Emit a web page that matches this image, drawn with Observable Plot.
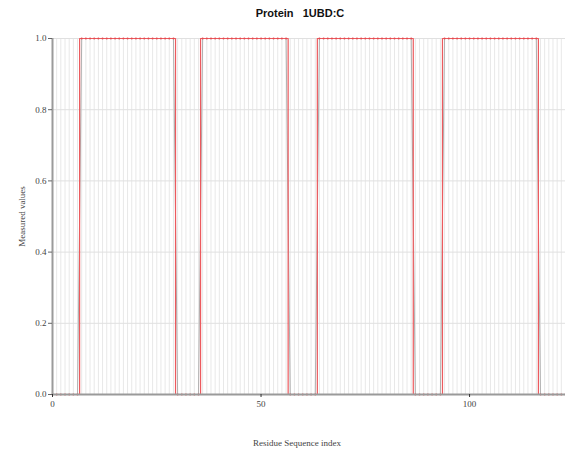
<!DOCTYPE html>
<html>
<head>
<meta charset="utf-8">
<script src="https://cdn.jsdelivr.net/npm/d3@7"></script>
<script src="https://cdn.jsdelivr.net/npm/@observablehq/plot@0.6"></script>
<style>
  body { margin: 0; background: #fff; }
  #wrap { position: relative; width: 565px; height: 452px; }
  #title { position: absolute; top: 7px; left: 0; width: 600px; text-align: center;
           font: bold 11px "Liberation Sans", Arial, sans-serif; color: #111; white-space: pre; }
</style>
</head>
<body>
<div id="wrap"><div id="title">Protein   1UBD:C</div></div>
<script>
// Residue indices and measured values (1 = in segment, 0 = out)
const residues = d3.range(0, 124);
const segments = [[7, 29], [36, 56], [64, 86], [94, 116]];
const values = residues.map(r => segments.some(([a, b]) => r >= a && r <= b) ? 1 : 0);
const xTicks = [0, 50, 100];
const yTicks = [0, 0.2, 0.4, 0.6, 0.8, 1.0];

const data = residues.map((r, i) => ({residue: r, value: values[i]}));

const chart = Plot.plot({
  width: 565,
  height: 452,
  marginTop: 38,
  marginBottom: 58,
  marginLeft: 52,
  marginRight: 0,
  style: {fontFamily: "'Liberation Serif', 'Times New Roman', serif", fontSize: "9px", color: "#444", background: "#fff"},
  x: {domain: [0, 123], label: null},
  y: {domain: [0, 1], label: null},
  marks: [
    Plot.ruleX(residues, {stroke: "#e8e8e8", strokeWidth: 1}),
    Plot.ruleY(yTicks, {stroke: "#e0e0e0", strokeWidth: 1}),
    Plot.line(data, {x: "residue", y: "value", stroke: "#b0b0b0", strokeWidth: 1}),
    Plot.line(data, {x: "residue", y: "value", stroke: "#ec5a5e", strokeWidth: 1.2, curve: "step"}),
    Plot.dot(data, {x: "residue", y: "value", r: 1, fill: "#e44a50", stroke: null}),
    Plot.ruleX([0], {stroke: "#9a9a9a", strokeWidth: 2}),
    Plot.ruleY([0], {stroke: "#9a9a9a", strokeWidth: 2}),
    Plot.axisY(yTicks, {tickFormat: d3.format(".1f"), tickSize: 4, stroke: "#666", tickPadding: 2,
      label: "Measured values", labelAnchor: "center", labelOffset: 34, labelArrow: "none", fontSize: 9}),
    Plot.axisX(xTicks, {tickSize: 3, stroke: "#333", tickPadding: 3,
      label: null, fontSize: 9}),
    Plot.text(["Residue Sequence index"], {frameAnchor: "bottom", dx: -12, dy: 51, fontSize: 9, fill: "#444"})
  ]
});
document.getElementById("wrap").appendChild(chart);
</script>
</body>
</html>
